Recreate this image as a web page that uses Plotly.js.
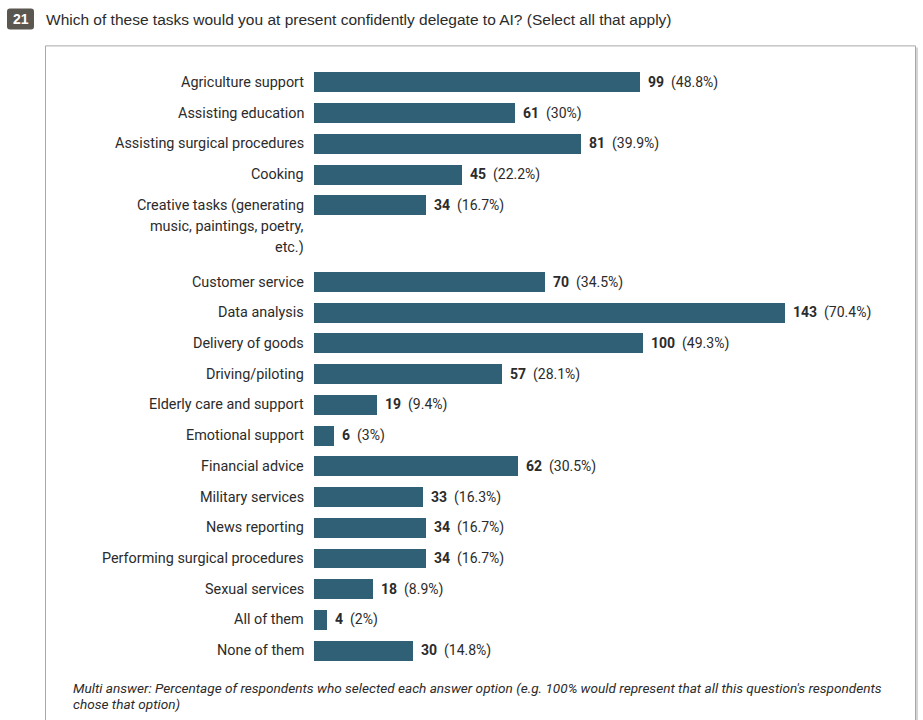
<!DOCTYPE html>
<html>
<head>
<meta charset="utf-8">
<script src="https://cdn.plot.ly/plotly-3.0.1.min.js"></script>
<style>
  html, body { margin: 0; padding: 0; background: #fff; }
  #chart { width: 923px; height: 720px; }
</style>
</head>
<body>
<div id="chart"></div>
<script>
// ---- data ----
const questionNumber = "21";
const questionText = "Which of these tasks would you at present confidently delegate to AI? (Select all that apply)";
const categories = [
  "Agriculture support",
  "Assisting education",
  "Assisting surgical procedures",
  "Cooking",
  "Creative tasks (generating<br>music, paintings, poetry,<br>etc.)",
  "Customer service",
  "Data analysis",
  "Delivery of goods",
  "Driving/piloting",
  "Elderly care and support",
  "Emotional support",
  "Financial advice",
  "Military services",
  "News reporting",
  "Performing surgical procedures",
  "Sexual services",
  "All of them",
  "None of them"
];
const counts = [99, 61, 81, 45, 34, 70, 143, 100, 57, 19, 6, 62, 33, 34, 34, 18, 4, 30];
const percents = [48.8, 30, 39.9, 22.2, 16.7, 34.5, 70.4, 49.3, 28.1, 9.4, 3, 30.5, 16.3, 16.7, 16.7, 8.9, 2, 14.8];
const footnoteLines = [
  "Multi answer: Percentage of respondents who selected each answer option (e.g. 100% would represent that all this question's respondents",
  "chose that option)"
];

// ---- layout geometry (pixels) ----
const FIG_W = 923, FIG_H = 720;
const L = 314, W = 527;          // plot area left/width
const xMax = 160;
const rowPx = 30.75;
const lineStep = 21;             // label line spacing
const extraPerLine = 0.75;       // extra row units per additional label line

// row positions computed from label line counts
const lineCounts = categories.map(c => c.split("<br>").length);
const positions = [];
categories.forEach((c, i) => {
  positions.push(i === 0 ? 0 : positions[i - 1] + 1 + (lineCounts[i - 1] - 1) * extraPerLine);
});
const yMin = -0.5, yMax = positions[positions.length - 1] + 0.5;
const firstRowPx = 82;
const T = firstRowPx - (0 - yMin) * rowPx;
const H = (yMax - yMin) * rowPx;
const B = FIG_H - T - H;
const R = FIG_W - L - W;

function px(x) { return (x - L) / W; }
function py(y) { return 1 - (y - T) / H; }

const barColor = "#2f6075";
const textColor = "#2b2b2b";
const chartFont = "Roboto, 'Open Sans', sans-serif";
const headFont = "'Liberation Sans', Arial, Helvetica, sans-serif";

const trace = {
  type: "bar",
  orientation: "h",
  x: counts,
  y: positions,
  width: 0.65,
  marker: { color: barColor },
  hoverinfo: "skip"
};

const annotations = [];
// category labels (one annotation per line to control spacing)
categories.forEach((c, i) => {
  c.split("<br>").forEach((line, j) => {
    annotations.push({
      xref: "paper", yref: "y",
      x: px(306), y: positions[i],
      xanchor: "right", yanchor: "middle",
      yshift: -j * lineStep,
      text: line, showarrow: false,
      font: { family: chartFont, size: 14.4, color: textColor }
    });
  });
});
// value labels
counts.forEach((v, i) => {
  annotations.push({
    xref: "x", yref: "y",
    x: v, y: positions[i],
    xanchor: "left", yanchor: "middle",
    xshift: 6,
    text: "<b>" + v + "</b>  (" + percents[i] + "%)",
    showarrow: false,
    font: { family: chartFont, size: 14, color: textColor }
  });
});
// header
annotations.push({
  xref: "paper", yref: "paper",
  x: px(20.5), y: py(19),
  xanchor: "center", yanchor: "middle",
  text: "<b>" + questionNumber + "</b>", showarrow: false,
  font: { family: headFont, size: 14, color: "#ffffff" }
});
annotations.push({
  xref: "paper", yref: "paper",
  x: px(44), y: py(19),
  xanchor: "left", yanchor: "middle",
  text: questionText, showarrow: false,
  font: { family: headFont, size: 15.5, color: textColor }
});
// footnote
footnoteLines.forEach((line, j) => {
  annotations.push({
    xref: "paper", yref: "paper",
    x: px(71), y: py(688 + j * 16),
    xanchor: "left", yanchor: "middle",
    text: "<i>" + line + "</i>", showarrow: false,
    font: { family: chartFont, size: 13.6, color: textColor }
  });
});

function roundRect(x0, y0, x1, y1, r) {
  const X0 = px(x0), X1 = px(x1), Y0 = py(y0), Y1 = py(y1);
  const rx = r / W, ry = r / H;
  return `M${X0 + rx},${Y0} L${X1 - rx},${Y0} Q${X1},${Y0} ${X1},${Y0 - ry} ` +
         `L${X1},${Y1 + ry} Q${X1},${Y1} ${X1 - rx},${Y1} L${X0 + rx},${Y1} ` +
         `Q${X0},${Y1} ${X0},${Y1 + ry} L${X0},${Y0 - ry} Q${X0},${Y0} ${X0 + rx},${Y0} Z`;
}

const shapes = [
  // outer box (extends past bottom)
  { type: "rect", xref: "paper", yref: "paper", layer: "below",
    x0: px(45.5), x1: px(915.5), y0: py(45.5), y1: py(740),
    line: { color: "#a8a8a8", width: 1 }, fillcolor: "rgba(0,0,0,0)" },
  { type: "line", xref: "paper", yref: "paper", layer: "below",
    x0: px(917), x1: px(917), y0: py(47), y1: py(740),
    line: { color: "#d4d4d4", width: 2 } },
  // question number badge
  { type: "path", xref: "paper", yref: "paper",
    path: roundRect(7, 8, 34, 29, 3),
    fillcolor: "#5a5650", line: { width: 0 } }
];

const layout = {
  width: FIG_W, height: FIG_H,
  margin: { l: L, r: R, t: T, b: B, pad: 0 },
  paper_bgcolor: "#ffffff",
  plot_bgcolor: "rgba(0,0,0,0)",
  showlegend: false,
  hovermode: false,
  bargap: 0,
  xaxis: { range: [0, xMax], visible: false, fixedrange: true },
  yaxis: { range: [yMax, yMin], visible: false, fixedrange: true },
  annotations: annotations,
  shapes: shapes
};

Plotly.newPlot("chart", [trace], layout, { displayModeBar: false, staticPlot: true });
</script>
</body>
</html>
